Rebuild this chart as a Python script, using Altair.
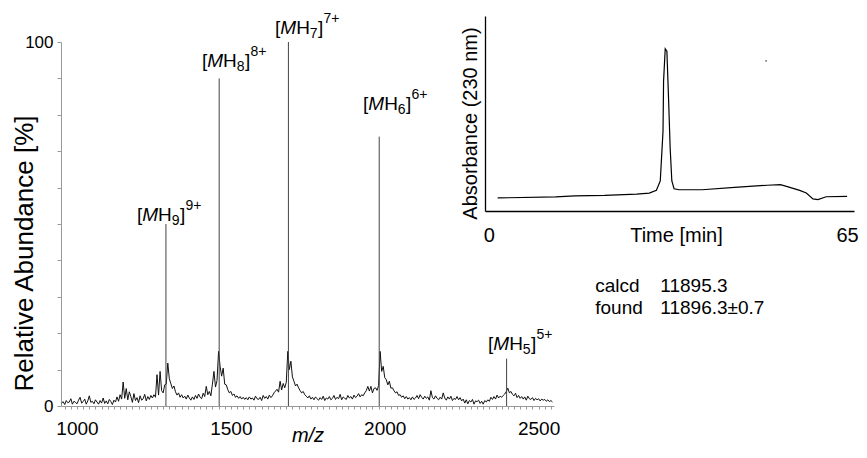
import altair as alt
import pandas as pd

FONT = "Liberation Sans"

# ---------------- mass spectrum (profile sampled every 5 m/z from 950) ----------------
mz_start = 950
mz_step = 5
profile = [
    0.8, 1.2, 0.4, 1.5, 0.9, 1.1, 2.0, 0.5, 1.3, 1.0, 0.6, 1.6, 2.4, 0.8, 1.2, 1.9, 0.5, 1.4, 2.8, 1.0,   # 950
    1.3, 0.6, 1.7, 1.1, 0.5, 1.5, 0.8, 2.2, 0.7, 1.4, 0.6, 1.8, 1.2, 0.4, 1.6, 1.1, 2.5, 1.3, 3.1, 1.9,   # 1050
    6.6, 2.1, 4.8, 1.7, 3.9, 2.6, 1.0, 3.4, 1.5, 2.3, 0.9, 2.8, 1.6, 2.0, 3.2, 1.4, 2.6, 1.8, 2.9, 2.2,   # 1150
    3.1, 2.4, 8.6, 3.0, 9.5, 4.2, 3.6, 5.8, 6.0, 11.8, 7.5, 6.1, 4.8, 5.5, 3.9, 3.0, 3.6, 2.4, 3.1, 2.2,  # 1250
    2.7, 1.9, 3.0, 2.2, 1.6, 2.5, 1.8, 2.9, 2.1, 3.3, 2.4, 2.0, 3.5, 2.6, 5.4, 3.1, 4.0, 2.8, 6.0, 9.5,   # 1350
    5.2, 7.0, 15.0, 10.9, 8.2, 10.4, 6.0, 5.8, 4.5, 3.6, 4.0, 2.9, 3.3, 2.4, 2.8, 2.1, 2.6, 1.9, 2.4, 1.8,  # 1450
    2.3, 1.7, 2.5, 1.9, 2.2, 1.6, 2.7, 2.0, 1.8, 2.4, 1.5, 2.9, 2.1, 2.6, 1.9, 3.0, 2.3, 2.8, 3.6, 4.1,   # 1550
    4.6, 3.8, 6.8, 4.4, 6.2, 5.0, 6.5, 15.0, 10.0, 12.3, 8.0, 6.8, 5.5, 6.0, 5.0, 4.2, 3.6, 4.0, 3.1, 2.7,  # 1650
    2.2, 2.8, 1.9, 2.4, 1.7, 2.5, 2.0, 1.6, 2.3, 1.8, 2.7, 1.5, 2.2, 1.9, 2.6, 1.7, 2.1, 2.9, 1.8, 2.4,   # 1750
    2.0, 3.2, 1.7, 2.5, 2.1, 1.8, 2.9, 2.2, 2.6, 1.9, 3.0, 2.3, 2.7, 3.4, 2.5, 3.1, 2.8, 3.6, 4.2, 5.4,   # 1850
    4.1, 5.4, 3.6, 4.8, 5.0, 4.3, 5.6, 15.0, 9.5, 10.9, 7.8, 7.2, 5.8, 6.8, 4.9, 5.0, 4.2, 3.6, 3.9, 2.9,  # 1950
    3.1, 2.4, 2.8, 2.0, 2.6, 1.9, 2.3, 1.7, 2.5, 1.8, 2.2, 2.9, 2.0, 3.1, 2.4, 1.9, 2.7, 2.1, 2.5, 1.6,   # 2050
    4.2, 2.3, 1.9, 2.8, 2.1, 1.7, 2.4, 1.9, 3.6, 2.2, 1.6, 2.5, 1.9, 2.7, 1.5, 2.1, 1.8, 2.6, 1.7, 2.3,   # 2150
    1.4, 1.9, 0.8, 1.7, 0.6, 1.5, 1.1, 1.8, 0.5, 1.4, 1.2, 1.6, 0.7, 1.3, 0.5, 1.5, 1.1, 1.7, 1.3, 2.4,   # 2250
    1.8, 2.6, 1.9, 3.0, 2.2, 2.7, 2.4, 2.9, 3.3, 4.0, 4.9, 3.6, 4.0, 3.2, 2.8, 3.5, 2.3, 2.9, 2.1, 2.6,   # 2350
    1.9, 2.5, 1.6, 2.7, 2.0, 1.8, 2.3, 1.5, 2.1, 1.7, 2.0, 1.4, 1.9, 1.6, 1.8, 1.3, 1.7, 1.2, 1.5, 1.1,   # 2450
]
peak_mz = [1289, 1462, 1687, 1982, 2396]
peak_ab = [50, 90, 100, 74, 13]
ion_sub = ["9", "8", "7", "6", "5"]
ion_sup = ["9+", "8+", "7+", "6+", "5+"]
label_mz = [1195, 1406, 1643.5, 1929.5, 2335.7]
label_ab = [50.8, 93.1, 102.2, 81.3, 15.4]

# ---------------- HPLC trace ----------------
time_min = [1.6, 12.1, 15.6, 21.0, 26.8, 29.1, 30.4, 31.1, 31.6, 31.7, 32.0, 32.3, 32.6, 32.9,
            33.2, 33.6, 34.5, 38.7, 44.6, 50.5, 52.9, 54.0, 56.4, 57.6, 58.8, 59.7, 61.2, 65.0]
absorb = [6.7, 7.2, 7.8, 8.0, 8.7, 9.2, 10.6, 15.4, 41.0, 66.7, 83.2, 82.0, 58.0, 32.0,
          15.4, 11.4, 10.9, 10.9, 12.1, 13.2, 13.5, 12.6, 10.6, 9.2, 6.2, 5.8, 7.3, 7.5]
speck_t = [50.3]
speck_a = [77]

mass_names = ["calcd", "found"]
mass_values = ["11895.3", "11896.3\u00b10.7"]
mass_y = [-41.5, -52.8]

W, H = 493, 364

# ---------------- main spectrum ----------------
grid = [mz_start + mz_step * i for i in range(len(profile))]
spec_df = pd.DataFrame({"mz": grid, "ab": profile})
peak_df = pd.DataFrame({"mz": peak_mz, "ab": peak_ab, "zero": [0] * len(peak_mz)})
lab_df = pd.DataFrame({"mz": label_mz, "ab": label_ab, "sub": ion_sub, "sup": ion_sup})


def xs():
    return alt.Scale(domain=[948, 2550], range=[0, W], nice=False, zero=False)


def ys():
    return alt.Scale(domain=[0, 100], range=[H, 0], nice=False, zero=False)


x_axis = alt.Axis(
    orient="bottom",
    values=list(range(960, 2541, 20)), format="d",
    labelExpr="datum.value % 500 === 0 ? datum.label : ''",
    labelOverlap=False, labelFlush=False,
    labelFontSize=19, labelPadding=10, labelColor="black", labelFont=FONT,
    tickSize=3, tickColor="#999", domainColor="#999", grid=False,
    title="m/z", titleFontStyle="italic", titleFontSize=20, titleFontWeight="normal",
    titleFont=FONT, titleColor="black", titleY=35, titleBaseline="alphabetic",
)
y_axis = alt.Axis(
    orient="left",
    values=list(range(0, 101, 10)),
    labelExpr="datum.value == 0 || datum.value == 100 ? datum.label : ''",
    labelOverlap=False, labelFlush=False,
    labelFontSize=17, labelPadding=4, labelColor="black", labelFont=FONT,
    tickSize=4, tickColor="#999", domainColor="#999", grid=False,
    title="Relative Abundance [%]", titleFontSize=26, titleFontWeight="normal",
    titleFont=FONT, titleColor="black", titleX=-29, titleY=211,
    titleBaseline="alphabetic", titleAngle=-90, titleLimit=400,
)

spectrum = alt.Chart(spec_df).mark_line(color="#111", strokeWidth=1.0).encode(
    x=alt.X("mz:Q", scale=xs(), axis=x_axis),
    y=alt.Y("ab:Q", scale=ys(), axis=y_axis),
)
peaks = alt.Chart(peak_df).mark_rule(color="#444", strokeWidth=1).encode(
    x=alt.X("mz:Q", scale=xs(), axis=None),
    y=alt.Y("zero:Q", scale=ys(), axis=None),
    y2="ab:Q",
)


def piece(dx, dy=0, size=19, text=None, field=None, style="normal"):
    kw = dict(align="left", baseline="alphabetic", font=FONT, fontSize=size,
              fontStyle=style, dx=dx, dy=dy, color="black")
    if text is not None:
        kw["text"] = text
    ch = alt.Chart(lab_df).mark_text(**kw)
    enc = dict(x=alt.X("mz:Q", scale=xs(), axis=None), y=alt.Y("ab:Q", scale=ys(), axis=None))
    if field is not None:
        enc["text"] = alt.Text(f"{field}:N")
    return ch.encode(**enc)


labels = [
    piece(0, text="["),
    piece(5.3, text="M", style="italic"),
    piece(21.1, text="H"),
    piece(34.8, dy=4, size=14, field="sub"),
    piece(43.0, text="]"),
    piece(48.5, dy=-11, size=14, field="sup"),
]

# ---------------- inset chromatogram ----------------
trace_df = pd.DataFrame({"t": time_min, "a": absorb})
speck_df = pd.DataFrame({"t": speck_t, "a": speck_a})
mass_df = pd.DataFrame({"name": mass_names, "val": mass_values, "y": mass_y,
                        "t1": [19.3] * 2, "t2": [31.1] * 2})


def ts():
    return alt.Scale(domain=[-0.7, 66.25], range=[424, 793], nice=False, zero=False)


def as_():
    return alt.Scale(domain=[0, 100], range=[169, -26], nice=False, zero=False)


tx_axis = alt.Axis(
    orient="bottom", offset=-195, values=[0, 65], format="d",
    labelFontSize=20, labelPadding=14, labelColor="black", labelFont=FONT,
    labelFlush=False, labelOverlap=False,
    ticks=False, tickSize=0, domainColor="black", domainWidth=1.3, grid=False,
    title="Time [min]", titleFontSize=20, titleFontWeight="normal", titleFont=FONT,
    titleColor="black", titleY=14, titleX=615, titleBaseline="top",
)
ty_axis = alt.Axis(
    orient="left", offset=-424, labels=False, ticks=False, tickSize=0,
    domainColor="black", domainWidth=1.3, grid=False,
    title="Absorbance (230 nm)", titleFontSize=20, titleFontWeight="normal",
    titleFont=FONT, titleColor="black", titleX=-9, titleY=81,
    titleBaseline="alphabetic", titleAngle=-90,
)

trace = alt.Chart(trace_df).mark_line(color="black", strokeWidth=1.2).encode(
    x=alt.X("t:Q", scale=ts(), axis=tx_axis),
    y=alt.Y("a:Q", scale=as_(), axis=ty_axis),
)
speck = alt.Chart(speck_df).mark_point(filled=True, color="#555", size=3, opacity=1).encode(
    x=alt.X("t:Q", scale=ts(), axis=None),
    y=alt.Y("a:Q", scale=as_(), axis=None),
)
mass_names_txt = alt.Chart(mass_df).mark_text(
    align="left", baseline="alphabetic", font=FONT, fontSize=19, color="black"
).encode(
    x=alt.X("t1:Q", scale=ts(), axis=None),
    y=alt.Y("y:Q", scale=as_(), axis=None),
    text="name:N",
)
mass_vals_txt = alt.Chart(mass_df).mark_text(
    align="left", baseline="alphabetic", font=FONT, fontSize=19, color="black"
).encode(
    x=alt.X("t2:Q", scale=ts(), axis=None),
    y=alt.Y("y:Q", scale=as_(), axis=None),
    text="val:N",
)

chart = (
    alt.layer(spectrum, peaks, *labels, trace, speck, mass_names_txt, mass_vals_txt)
    .resolve_scale(x="independent", y="independent")
    .resolve_axis(x="independent", y="independent")
    .properties(width=W, height=H,
                padding={"left": 3, "top": 3, "right": 0, "bottom": 0},
                background="white")
    .configure(font=FONT)
    .configure_view(stroke=None)
)

chart.save("out.html", embed_options={"renderer": "svg", "actions": False})
